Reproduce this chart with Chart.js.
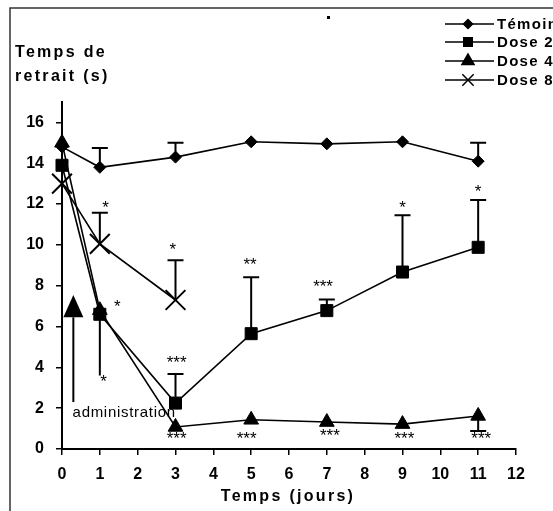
<!DOCTYPE html>
<html><head><meta charset="utf-8">
<script src="https://cdn.jsdelivr.net/npm/chart.js@4"></script>
<style>html,body{margin:0;padding:0;background:#fff;}#wrap{width:553px;height:511px;position:relative;}</style>
</head><body><div id="wrap"><canvas id="c" width="553" height="511"></canvas></div>
<script>
// ---- data ----
const days = [0, 1, 3, 5, 7, 9, 11];
const days8 = [0, 1, 3];
const temoin = [14.8, 13.8, 14.3, 15.05, 14.95, 15.05, 14.1];
const dose2 = [13.9, 6.6, 2.25, 5.65, 6.78, 8.67, 9.88];
const dose4 = [15.0, 6.8, 1.08, 1.43, 1.32, 1.22, 1.62];
const dose8 = [13.0, 10.05, 7.3];
const seriesNames = ['Témoin', 'Dose 2', 'Dose 4', 'Dose 8'];
const xTicks = [0,1,2,3,4,5,6,7,8,9,10,11,12];
const yTicks = [0,2,4,6,8,10,12,14,16];
// error bars: day, from value, to value, cap
const errDays = [1, 3, 11, 3, 5, 7, 9, 11, 1, 11, 1, 3];
const errFrom = [13.8, 14.3, 14.1, 2.25, 5.65, 6.78, 8.67, 9.88, 6.6, 1.62, 10.05, 7.3];
const errTo = [14.75, 15.0, 15.0, 3.68, 8.42, 7.33, 11.45, 12.2, 3.6, 0.88, 11.58, 9.25];
const errCap = [1, 1, 1, 1, 1, 1, 1, 1, 0, 1, 1, 1];
// significance marks
const starX = [1.15, 2.93, 1.46, 1.1, 3.03, 3.03, 4.97, 4.88, 6.9, 7.08, 9.0, 9.05, 11.0, 11.08];
const starY = [12.0, 9.93, 7.17, 3.48, 4.4, 0.69, 9.23, 0.69, 8.15, 0.83, 12.0, 0.69, 12.8, 0.69];
const starText = ['*', '*', '*', '*', '***', '***', '**', '***', '***', '***', '*', '***', '*', '***'];
// administration arrow
const arrowDay = 0.3;
const arrowBottom = 2.3;
const arrowHeadBase = 6.45;
const arrowTop = 7.55;
const adminText = 'administration';
const adminX = 0.28;
const adminY = 1.77;

const styles = ['rectRot', 'rect', 'triangle', 'crossRot'];
const radii = [6, 8.5, 8.5, 14];
const legendRadii = [4.5, 6, 7, 8];
const legendY = [24, 42, 61, 80];

function pts(xs, ys) { return xs.map((x, i) => ({x: x, y: ys[i]})); }
function ds(label, data, i) {
  return {
    label: label, data: data, showLine: true, clip: false,
    borderColor: '#000', backgroundColor: '#000', borderWidth: 1.6,
    pointStyle: styles[i], pointRadius: radii[i], pointHoverRadius: radii[i],
    pointBorderColor: '#000', pointBackgroundColor: '#000',
    pointBorderWidth: i === 3 ? 2 : 1
  };
}

const extras = {
  id: 'extras',
  beforeDatasetsDraw(chart) {
    const ctx = chart.ctx, xs = chart.scales.x, ys = chart.scales.y;
    ctx.save();
    // frame
    ctx.strokeStyle = '#333'; ctx.lineWidth = 1.5;
    ctx.beginPath(); ctx.moveTo(10, 511); ctx.lineTo(10, 8); ctx.lineTo(553, 8); ctx.stroke();
    ctx.fillStyle = '#000'; ctx.fillRect(327, 16, 3, 3);
    // error bars
    ctx.strokeStyle = '#000'; ctx.lineWidth = 2;
    for (let i = 0; i < errDays.length; i++) {
      const px = xs.getPixelForValue(errDays[i]);
      const y1 = ys.getPixelForValue(errFrom[i]), y2 = ys.getPixelForValue(errTo[i]);
      ctx.beginPath(); ctx.moveTo(px, y1); ctx.lineTo(px, y2);
      if (errCap[i]) { ctx.moveTo(px - 8, y2); ctx.lineTo(px + 8, y2); }
      ctx.stroke();
    }
    // administration arrow
    const ax = xs.getPixelForValue(arrowDay);
    ctx.lineWidth = 2;
    ctx.beginPath(); ctx.moveTo(ax, ys.getPixelForValue(arrowBottom)); ctx.lineTo(ax, ys.getPixelForValue(arrowHeadBase)); ctx.stroke();
    ctx.beginPath();
    ctx.moveTo(ax, ys.getPixelForValue(arrowTop));
    ctx.lineTo(ax - 10, ys.getPixelForValue(arrowHeadBase));
    ctx.lineTo(ax + 10, ys.getPixelForValue(arrowHeadBase));
    ctx.closePath(); ctx.fill();
    ctx.font = '15px Arial, "Liberation Sans"';
    ctx.letterSpacing = '0.7px';
    ctx.textAlign = 'left'; ctx.textBaseline = 'middle';
    ctx.fillStyle = '#000';
    ctx.fillText(adminText, xs.getPixelForValue(adminX), ys.getPixelForValue(adminY));
    ctx.restore();
  },
  afterDraw(chart) {
    const ctx = chart.ctx, xs = chart.scales.x, ys = chart.scales.y;
    ctx.save();
    ctx.fillStyle = '#000';
    // stars
    ctx.font = '17px Arial, "Liberation Sans"';
    ctx.letterSpacing = '0px';
    ctx.textAlign = 'center'; ctx.textBaseline = 'alphabetic';
    for (let i = 0; i < starX.length; i++) {
      const m = ctx.measureText(starText[i]);
      const off = (m.actualBoundingBoxAscent - m.actualBoundingBoxDescent) / 2;
      ctx.fillText(starText[i], xs.getPixelForValue(starX[i]), ys.getPixelForValue(starY[i]) + off);
    }
    // axis titles
    ctx.font = 'bold 16px Arial, "Liberation Sans"';
    ctx.letterSpacing = '2.3px';
    ctx.textAlign = 'left'; ctx.textBaseline = 'middle';
    ctx.fillText('Temps de', 15, 53);
    ctx.fillText('retrait (s)', 15, 77);
    ctx.textAlign = 'center';
    ctx.fillText('Temps (jours)', 288, 497);
    // legend
    ctx.textAlign = 'left';
    ctx.font = 'bold 15px Arial, "Liberation Sans"';
    ctx.letterSpacing = '1.3px';
    chart.data.datasets.forEach((d, i) => {
      const y = legendY[i];
      ctx.strokeStyle = '#000'; ctx.lineWidth = 1.5;
      ctx.beginPath(); ctx.moveTo(445, y); ctx.lineTo(494, y); ctx.stroke();
      ctx.fillStyle = '#000';
      Chart.helpers.drawPoint(ctx, {pointStyle: styles[i], radius: legendRadii[i], rotation: 0, borderWidth: i === 3 ? 2 : 1}, 468, y);
      ctx.fillText(seriesNames[i], 497, y + 1);
    });
    ctx.restore();
  }
};

new Chart(document.getElementById('c'), {
  type: 'scatter',
  data: {
    datasets: [
      ds(seriesNames[0], pts(days, temoin), 0),
      ds(seriesNames[1], pts(days, dose2), 1),
      ds(seriesNames[2], pts(days, dose4), 2),
      ds(seriesNames[3], pts(days8, dose8), 3)
    ]
  },
  options: {
    responsive: false, animation: false, devicePixelRatio: 1,
    layout: {padding: {top: 102, right: 37, left: 0, bottom: 0}},
    plugins: {legend: {display: false}, tooltip: {enabled: false}},
    scales: {
      x: {
        type: 'linear', min: 0, max: 12,
        afterBuildTicks: s => { s.ticks = xTicks.map(v => ({value: v})); },
        afterFit: s => { s.height = 62; },
        ticks: {color: '#000', font: {family: 'Arial, "Liberation Sans"', size: 16, weight: 'bold'}, padding: 10, maxRotation: 0, autoSkip: false},
        grid: {drawOnChartArea: false, drawTicks: true, tickLength: 6, color: '#000', lineWidth: 1.5},
        border: {color: '#000', width: 2}
      },
      y: {
        min: 0, max: 17,
        afterBuildTicks: s => { s.ticks = yTicks.map(v => ({value: v})); },
        afterFit: s => { s.width = 62; },
        ticks: {color: '#000', font: {family: 'Arial, "Liberation Sans"', size: 16, weight: 'bold'}, padding: 12},
        grid: {drawOnChartArea: false, drawTicks: true, tickLength: 6, color: '#000', lineWidth: 1.5},
        border: {color: '#000', width: 2}
      }
    }
  },
  plugins: [extras]
});
</script></body></html>
